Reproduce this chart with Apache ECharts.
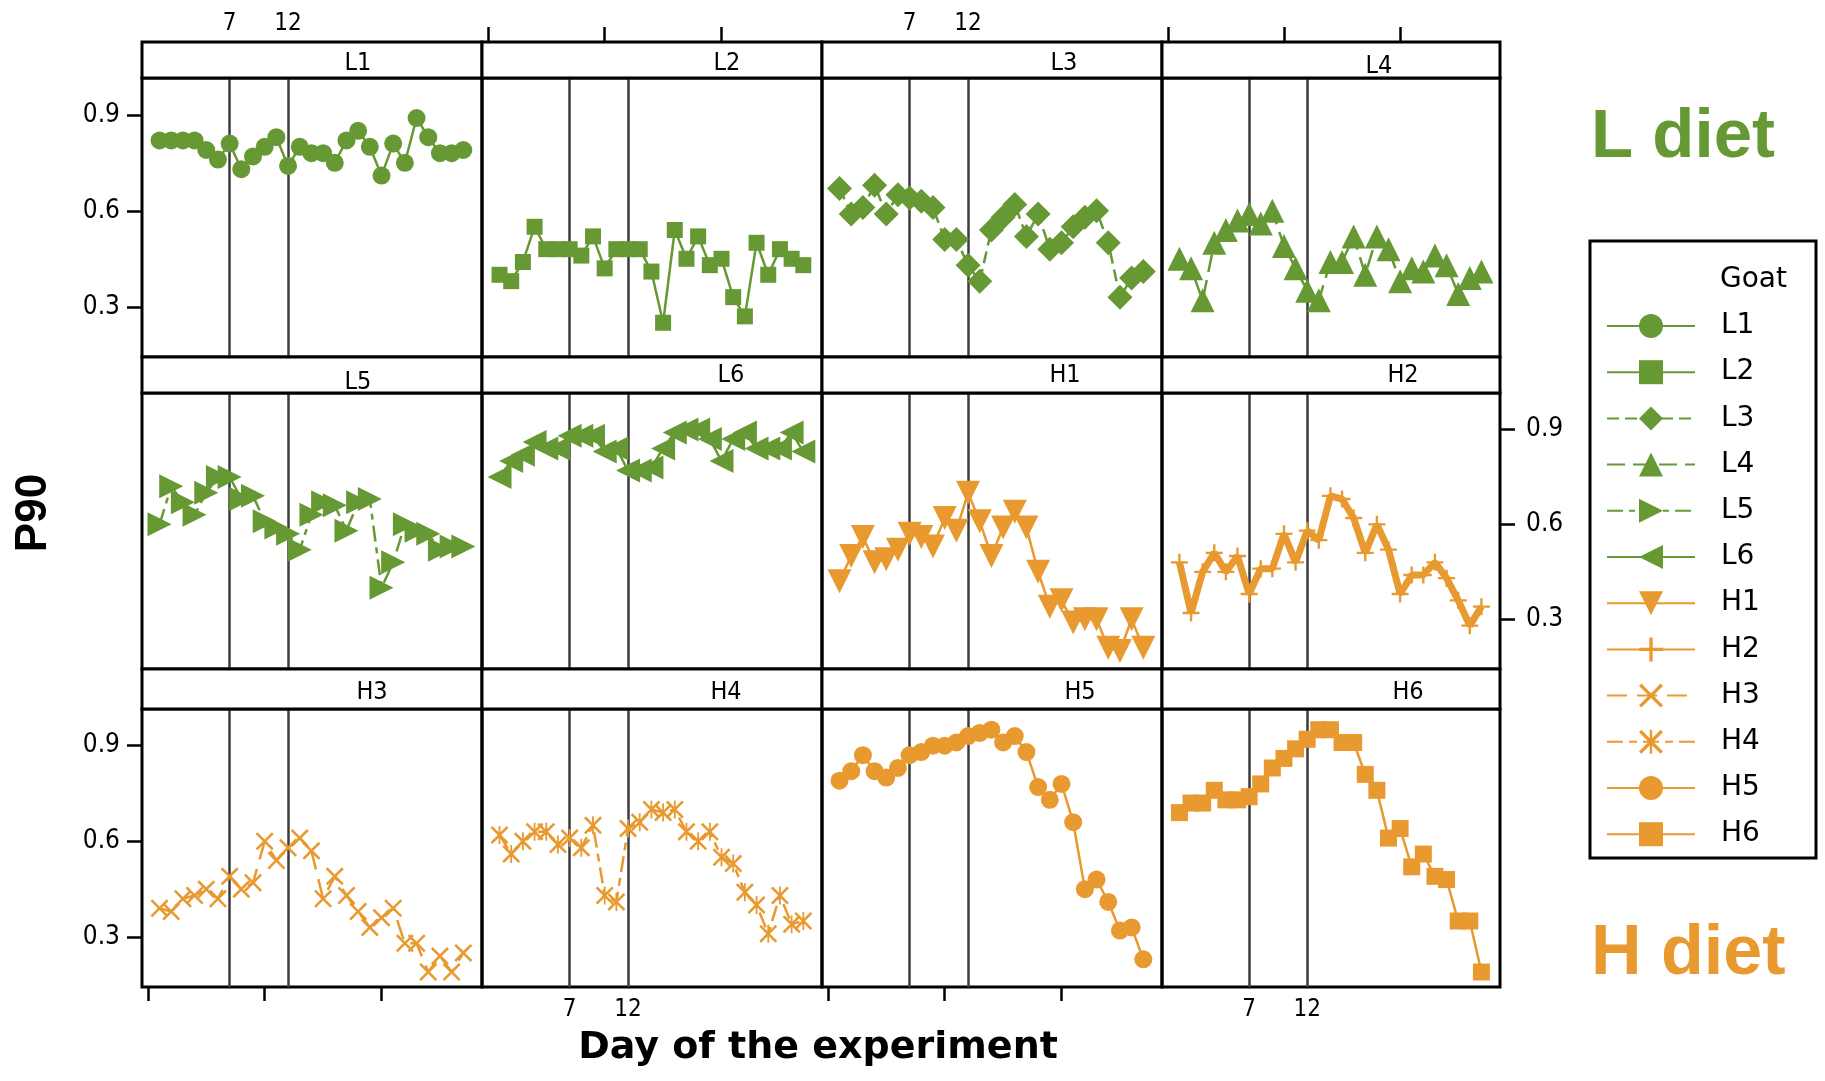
<!DOCTYPE html>
<html>
<head>
<meta charset="utf-8">
<script src="https://cdn.jsdelivr.net/npm/echarts@6/dist/echarts.min.js"></script>
<style>
  html, body { margin: 0; padding: 0; background: #fff; }
  #chart { width: 1825px; height: 1081px; }
</style>
</head>
<body>
<div id="chart"></div>
<script>
// day of the experiment for every goat
const days = [1, 2, 3, 4, 5, 6, 7, 8, 9, 10, 11, 12, 13, 14, 15, 16, 17, 18, 19, 20, 21, 22, 23, 24, 25, 26, 27];

// P90 per goat
const L1 = [0.82, 0.82, 0.82, 0.82, 0.79, 0.76, 0.81, 0.73, 0.77, 0.80, 0.83, 0.74, 0.80, 0.78, 0.78, 0.75, 0.82, 0.85, 0.80, 0.71, 0.81, 0.75, 0.89, 0.83, 0.78, 0.78, 0.79];
const L2 = [0.40, 0.38, 0.44, 0.55, 0.48, 0.48, 0.48, 0.46, 0.52, 0.42, 0.48, 0.48, 0.48, 0.41, 0.25, 0.54, 0.45, 0.52, 0.43, 0.45, 0.33, 0.27, 0.50, 0.40, 0.48, 0.45, 0.43];
const L3 = [0.67, 0.59, 0.61, 0.68, 0.59, 0.65, 0.64, 0.63, 0.61, 0.51, 0.51, 0.43, 0.38, 0.54, 0.58, 0.62, 0.52, 0.59, 0.48, 0.50, 0.55, 0.58, 0.60, 0.50, 0.33, 0.39, 0.41];
const L4 = [0.45, 0.42, 0.32, 0.50, 0.54, 0.57, 0.59, 0.56, 0.60, 0.49, 0.42, 0.35, 0.32, 0.44, 0.44, 0.52, 0.40, 0.52, 0.48, 0.38, 0.42, 0.41, 0.46, 0.43, 0.34, 0.39, 0.41];
const L5 = [0.60, 0.72, 0.67, 0.63, 0.70, 0.75, 0.75, 0.68, 0.69, 0.61, 0.59, 0.57, 0.52, 0.63, 0.67, 0.66, 0.58, 0.67, 0.68, 0.40, 0.48, 0.60, 0.58, 0.57, 0.52, 0.53, 0.53];
const L6 = [0.75, 0.80, 0.82, 0.86, 0.84, 0.84, 0.88, 0.88, 0.88, 0.83, 0.84, 0.77, 0.77, 0.78, 0.84, 0.89, 0.90, 0.90, 0.87, 0.80, 0.87, 0.89, 0.84, 0.84, 0.84, 0.89, 0.83];
const H1 = [0.42, 0.50, 0.56, 0.48, 0.49, 0.52, 0.57, 0.56, 0.53, 0.62, 0.58, 0.70, 0.61, 0.50, 0.59, 0.64, 0.59, 0.45, 0.34, 0.36, 0.29, 0.30, 0.30, 0.21, 0.20, 0.30, 0.21];
const H2 = [0.48, 0.32, 0.45, 0.51, 0.45, 0.50, 0.38, 0.46, 0.46, 0.57, 0.48, 0.58, 0.55, 0.69, 0.68, 0.62, 0.51, 0.60, 0.52, 0.38, 0.44, 0.44, 0.48, 0.43, 0.36, 0.28, 0.34];
const H3 = [0.39, 0.38, 0.42, 0.43, 0.45, 0.42, 0.49, 0.45, 0.47, 0.60, 0.54, 0.58, 0.61, 0.57, 0.42, 0.49, 0.43, 0.38, 0.33, 0.36, 0.39, 0.28, 0.28, 0.19, 0.24, 0.19, 0.25];
const H4 = [0.62, 0.56, 0.60, 0.63, 0.63, 0.59, 0.61, 0.58, 0.65, 0.43, 0.41, 0.64, 0.66, 0.70, 0.69, 0.70, 0.63, 0.60, 0.63, 0.55, 0.53, 0.44, 0.40, 0.31, 0.43, 0.34, 0.35];
const H5 = [0.79, 0.82, 0.87, 0.82, 0.80, 0.83, 0.87, 0.88, 0.90, 0.90, 0.91, 0.93, 0.94, 0.95, 0.91, 0.93, 0.88, 0.77, 0.73, 0.78, 0.66, 0.45, 0.48, 0.41, 0.32, 0.33, 0.23];
const H6 = [0.69, 0.72, 0.72, 0.76, 0.73, 0.73, 0.74, 0.78, 0.83, 0.86, 0.89, 0.92, 0.95, 0.95, 0.91, 0.91, 0.81, 0.76, 0.61, 0.64, 0.52, 0.56, 0.49, 0.48, 0.35, 0.35, 0.19];

const goats = ['L1', 'L2', 'L3', 'L4', 'L5', 'L6', 'H1', 'H2', 'H3', 'H4', 'H5', 'H6'];
const goatValues = [L1, L2, L3, L4, L5, L6, H1, H2, H3, H4, H5, H6];

const refDays = [7, 12];        // vertical reference lines + their labels
const xTicks = [0, 10, 20];
const yTicks = [0.3, 0.6, 0.9];

// ---- layout (pixels) ----
const colX = [142, 482, 822, 1162, 1500];
const stripTop = [42, 357, 669];
const panelTop = [78, 393, 709];
const panelBottom = [357, 669, 987];
const stripDx = [46, 75, 72, 48, 46, 79, 73, 72, 60, 74, 88, 77];
const stripDy = [3, 3, 3, 6, 7, 0, 0, 0, 3, 3, 3, 3];

const green = '#669933';
const orange = '#E8992F';
const narrow = "'Liberation Sans Narrow', 'DejaVu Sans Condensed', 'Roboto Condensed', sans-serif";

const PLUS = 'path://M4.3,0H5.7V4.3H10V5.7H5.7V10H4.3V5.7H0V4.3H4.3Z';
const CROSS = 'path://M0,1L1,0L5,4L9,0L10,1L6,5L10,9L9,10L5,6L1,10L0,9L4,5Z';
const STAR = 'path://M0,1L1,0L4.5,3.5V0H5.5V3.5L9,0L10,1L6,5L10,9L9,10L5.5,6.5V10H4.5V6.5L1,10L0,9L4,5Z';

const styles = [
  { color: green, symbol: 'circle', size: 18, rotate: 0, width: 2.5, dash: 'solid' },
  { color: green, symbol: 'rect', size: 16, rotate: 0, width: 2.5, dash: 'solid' },
  { color: green, symbol: 'diamond', size: 25, rotate: 0, width: 2.5, dash: [12, 6] },
  { color: green, symbol: 'triangle', size: 24, rotate: 0, width: 2.5, dash: [18, 8] },
  { color: green, symbol: 'triangle', size: 24, rotate: -90, width: 2.5, dash: [16, 6, 6, 6] },
  { color: green, symbol: 'triangle', size: 24, rotate: 90, width: 2.5, dash: 'solid' },
  { color: orange, symbol: 'triangle', size: 24, rotate: 180, width: 2.5, dash: 'solid' },
  { color: orange, symbol: PLUS, size: 17, rotate: 0, width: 7, dash: 'solid' },
  { color: orange, symbol: CROSS, size: 18, rotate: 0, width: 2.5, dash: [20, 10] },
  { color: orange, symbol: STAR, size: 18, rotate: 0, width: 2.5, dash: [16, 6, 8, 6] },
  { color: orange, symbol: 'circle', size: 18, rotate: 0, width: 2.5, dash: 'solid' },
  { color: orange, symbol: 'rect', size: 17, rotate: 0, width: 2.5, dash: 'solid' }
];

const grids = [], xAxes = [], yAxes = [], series = [], graphics = [];

goats.forEach((g, i) => {
  const r = Math.floor(i / 4), c = i % 4;
  const w = colX[c + 1] - colX[c];
  grids.push({
    left: colX[c], top: panelTop[r], width: w, height: panelBottom[r] - panelTop[r],
    show: true, borderColor: '#000', borderWidth: 3, backgroundColor: 'transparent'
  });

  const bottomTicks = r === 2 && (c === 0 || c === 2);
  const bottomLabels = r === 2 && (c === 1 || c === 3);
  xAxes.push({
    gridIndex: i, type: 'value', min: -0.5, max: 28.6, position: 'bottom',
    axisLine: { show: false, onZero: false }, splitLine: { show: false },
    axisTick: { show: bottomTicks, customValues: xTicks, length: 14, lineStyle: { color: '#000', width: 2.5 } },
    axisLabel: { show: bottomLabels, customValues: refDays, margin: 11, fontSize: 24, color: '#000', fontFamily: narrow }
  });

  const yShow = (r !== 1 && c === 0) || (r === 1 && c === 3);
  yAxes.push({
    gridIndex: i, type: 'value', min: 0.143, max: 1.015, position: r === 1 ? 'right' : 'left',
    axisLine: { show: false, onZero: false }, splitLine: { show: false },
    axisTick: { show: yShow, customValues: yTicks, length: 15, lineStyle: { color: '#000', width: 2.5 } },
    axisLabel: {
      show: yShow, customValues: yTicks, margin: r === 1 ? 26 : 22, fontSize: 26, color: '#000',
      fontFamily: narrow, formatter: v => v.toFixed(1)
    }
  });

  const s = styles[i];
  series.push({
    name: g, type: 'line', xAxisIndex: i, yAxisIndex: i, z: 3,
    data: days.map((d, k) => [d, goatValues[i][k]]),
    symbol: s.symbol, symbolSize: s.size, symbolRotate: s.rotate, showSymbol: true,
    color: s.color,
    itemStyle: { color: s.color },
    lineStyle: { color: s.color, width: s.width, type: s.dash },
    emphasis: { disabled: true },
    markLine: {
      silent: true, z: 1, symbol: ['none', 'none'], label: { show: false },
      lineStyle: { color: '#3c3c3c', width: 2.5, type: 'solid' },
      emphasis: { disabled: true },
      data: refDays.map(d => ({ xAxis: d }))
    }
  });

  // strip with the goat name
  graphics.push({
    type: 'rect', z: 5,
    shape: { x: colX[c], y: stripTop[r], width: w, height: panelTop[r] - stripTop[r] },
    style: { fill: '#fff', stroke: '#000', lineWidth: 3 }
  });
  graphics.push({
    type: 'text', z: 6,
    x: colX[c] + w / 2 + stripDx[i], y: (stripTop[r] + panelTop[r]) / 2 + stripDy[i],
    style: { text: g, fill: '#000', font: '25px ' + narrow, align: 'center', verticalAlign: 'middle' }
  });
});

// top axis above row 1 strips (alternating: labels / ticks)
for (let c = 0; c < 4; c++) {
  xAxes.push({
    gridIndex: c, type: 'value', min: -0.5, max: 28.6, position: 'top', offset: panelTop[0] - stripTop[0],
    axisLine: { show: false, onZero: false }, splitLine: { show: false },
    axisTick: { show: c % 2 === 1, customValues: xTicks, length: 15, lineStyle: { color: '#000', width: 2.5 } },
    axisLabel: { show: c % 2 === 0, customValues: refDays, margin: 6, fontSize: 24, color: '#000', fontFamily: narrow }
  });
}

// legend frame and titles
graphics.push(
  { type: 'rect', shape: { x: 1590, y: 241, width: 226, height: 617 }, style: { fill: 'none', stroke: '#000', lineWidth: 3 } },
  { type: 'text', x: 1720, y: 280, style: { text: 'Goat', fill: '#000', font: "28px 'DejaVu Sans'", align: 'left', verticalAlign: 'middle' } },
  { type: 'text', x: 1591, y: 138, style: { text: 'L diet', fill: green, font: "bold 69px 'Liberation Sans'", align: 'left', verticalAlign: 'middle' } },
  { type: 'text', x: 1591, y: 955, style: { text: 'H diet', fill: orange, font: "bold 70px 'Liberation Sans'", align: 'left', verticalAlign: 'middle' } },
  { type: 'text', x: 34, y: 513, rotation: Math.PI / 2, style: { text: 'P90', fill: '#000', font: "bold 44px 'Liberation Sans'", align: 'center', verticalAlign: 'middle' } },
  { type: 'text', x: 818, y: 1048, style: { text: 'Day of the experiment', fill: '#000', font: "bold 38px 'DejaVu Sans'", align: 'center', verticalAlign: 'middle' } }
);

const chart = echarts.init(document.getElementById('chart'));
chart.setOption({
  animation: false,
  backgroundColor: '#fff',
  grid: grids,
  xAxis: xAxes,
  yAxis: yAxes,
  legend: {
    data: goats, orient: 'vertical', left: 1606, top: 312,
    itemWidth: 88, itemHeight: 30, itemGap: 18.2, padding: 0, selectedMode: false,
    textStyle: { fontFamily: 'DejaVu Sans', fontSize: 28, color: '#000', padding: [0, 0, 0, 21] }
  },
  graphic: graphics,
  series: series
});
</script>
</body>
</html>
